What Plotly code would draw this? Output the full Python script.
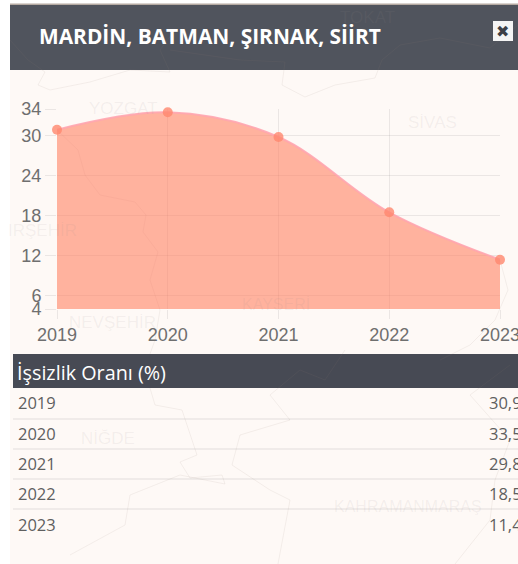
import plotly.graph_objects as go

years = [2019, 2020, 2021, 2022, 2023]
unemployment = [30.9, 33.5, 29.8, 18.5, 11.4]
y_ticks = [4, 6, 12, 18, 24, 30, 34]
title_text = "MARDİN, BATMAN, ŞIRNAK, SİİRT"
table_title = "İşsizlik Oranı (%)"
map_labels = [("TOKAT", 367, 18, 17), ("YOZGAT", 123, 108, 17), ("SİVAS", 432, 123, 17),
              ("IRŞEHİR", 42, 230, 17), ("KAYSERİ", 276, 304, 16), ("NEVŞEHİR", 112, 322, 17),
              ("NİĞDE", 108, 438, 17), ("KAHRAMANMARAŞ", 408, 506, 16)]
map_borders = [
    "M10 40 L28 60 L45 72 L38 85 L50 90 L90 82 L130 70 L170 72 L160 50 L175 30",
    "M57 130 L78 150 L85 175 L100 195 L135 202 L146 215 L143 232 L158 252 L150 280 L160 310 L155 340 L150 354",
    "M170 50 L240 60 L285 62 L282 85 L305 97 L335 85 L375 78 L382 60 L400 45 L440 38 L490 48 L518 25",
    "M150 388 L155 405 L182 410 L197 455 L180 462 L190 478 L222 475 L225 484 L180 475 L130 495 L125 525 L70 555",
    "M345 350 L325 380 L300 370 L270 395 L290 420 L240 435 L232 465 L270 490 L290 500 L278 564",
    "M510 365 L470 395 L510 440 L495 480 L490 520 L455 564",
    "M500 260 L508 290 L495 320 L470 345 L440 360",
]

W, H = 518, 564
L, R, T, B = 57, 500, 109, 309
PANEL = "#fef9f6"
HEADER = "#50545d"
TABLE_HEAD = "#474a54"
TEXT = "#6f6f6f"
FILL = "rgba(255,125,95,0.58)"
LINE = "rgba(255,165,175,0.9)"
GRID = "rgba(120,120,120,0.14)"


def X(p):
    return (p - L) / (R - L)


def Y(p):
    return (B - p) / (B - T)


def rect(x0, y0, x1, y1, color, layer="below"):
    return dict(type="rect", xref="paper", yref="paper", x0=X(x0), x1=X(x1), y0=Y(y0), y1=Y(y1),
                fillcolor=color, line_width=0, layer=layer)


def scaled_path(path):
    out = []
    for part in path.split():
        if part[0] in "ML":
            out.append(f"{part[0]}{X(float(part[1:])):.5f}")
        else:
            out.append(f"{Y(float(part)):.5f}")
    return " ".join(out)


shapes = [
    rect(10, 3.5, W, 5, "#b5aaa2"),
    rect(10, 70, W, H, PANEL),
    rect(10, 5, W, 70, HEADER),
    rect(13, 354, W, 388, TABLE_HEAD),
]
for p in map_borders:
    shapes.append(dict(type="path", xref="paper", yref="paper", path=scaled_path(p),
                       line=dict(color="rgba(150,130,120,0.10)", width=1), layer="below"))
for yp in (419, 449, 479, 509):
    shapes.append(dict(type="line", xref="paper", yref="paper", x0=X(13), x1=X(W), y0=Y(yp), y1=Y(yp),
                       line=dict(color="rgba(130,130,130,0.22)", width=1), layer="below"))
shapes.append(rect(493, 21, 513, 41, "#f4f4f4", layer="above"))

annotations = []


def text(x, y, s, size, color, family="Open Sans, sans-serif", bold=False, anchor="left"):
    annotations.append(dict(xref="paper", yref="paper", x=X(x), y=Y(y), text=f"<b>{s}</b>" if bold else s,
                            showarrow=False, xanchor=anchor, yanchor="middle", align=anchor,
                            font=dict(size=size, color=color, family=family)))


for label, lx, ly, size in map_labels:
    text(lx, ly, label, size, "rgba(150,140,140,0.10)", "Liberation Sans, sans-serif", anchor="center")
text(37, 36, title_text, 20.9, "#ffffff", bold=True)
text(503, 31, "<b>✖</b>", 16, "#3c3f46", "DejaVu Sans", anchor="center")
text(15, 372, table_title, 19.8, "#ffffff")
rows_y = [402, 433, 463, 493, 524]
for yr, val, yp in zip(years, unemployment, rows_y):
    text(16, yp, str(yr), 16.5, "#5f5f5f")
    text(487, yp, f"{val:.1f}".replace(".", ","), 16.5, "#5f5f5f")

fig = go.Figure(go.Scatter(
    x=years, y=unemployment, mode="lines+markers", fill="tozeroy", fillcolor=FILL,
    line=dict(shape="spline", smoothing=1.0, color=LINE, width=2),
    marker=dict(size=10, color="rgba(255,135,110,0.8)"),
    cliponaxis=False, hoverinfo="skip",
))
fig.update_layout(
    width=W, height=H, margin=dict(l=L, r=W - R, t=T, b=H - B),
    paper_bgcolor="#ffffff", plot_bgcolor="rgba(0,0,0,0)", showlegend=False,
    shapes=shapes, annotations=annotations,
    font=dict(family="Liberation Sans, Arial, sans-serif", size=18, color=TEXT),
)
fig.update_xaxes(range=[2019, 2023], tickvals=years, ticks="outside", ticklen=9, tickcolor=GRID,
                 gridcolor=GRID, zeroline=False, showline=False, ticklabeloverflow="allow", automargin=False,
                 tickfont=dict(size=18, color=TEXT))
fig.update_yaxes(range=[4, 34], tickvals=y_ticks, ticks="outside", ticklen=11, tickcolor=GRID,
                 gridcolor=GRID, zeroline=False, showline=False, automargin=False,
                 tickfont=dict(size=18, color=TEXT))
fig.write_html("out.html", config=dict(displayModeBar=False),
               post_script="document.body.style.margin='0';document.body.style.overflow='hidden';")
